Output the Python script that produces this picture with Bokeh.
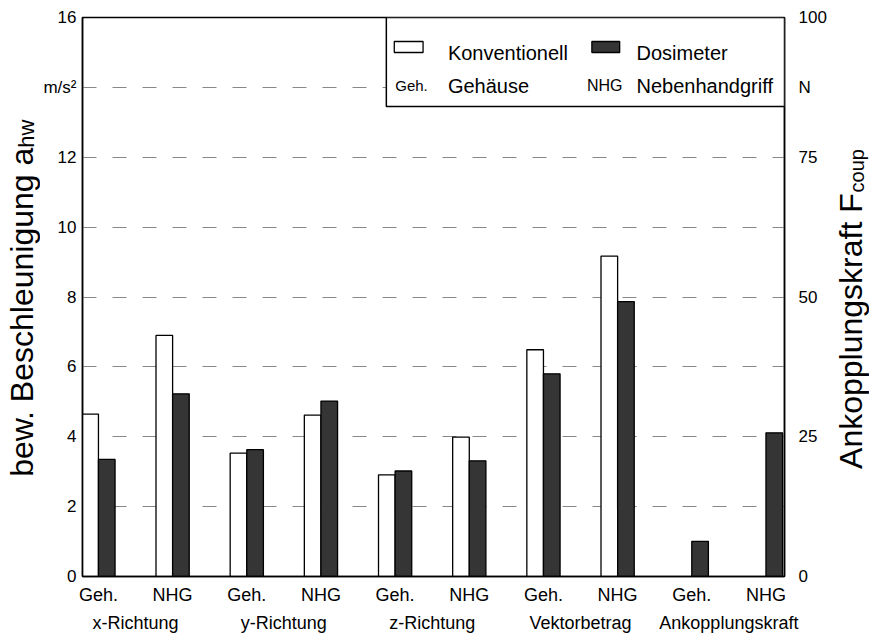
from math import pi
from bokeh.plotting import figure
from bokeh.layouts import row
from bokeh.models import Range1d, LinearAxis, FixedTicker, BoxAnnotation, Label
from bokeh.embed import file_html
from bokeh.resources import INLINE

# ---------------- data ----------------
groups = ["x-Richtung", "y-Richtung", "z-Richtung", "Vektorbetrag", "Ankopplungskraft"]
positions = ["Geh.", "NHG", "Geh.", "NHG", "Geh.", "NHG", "Geh.", "NHG", "Geh.", "NHG"]
# weighted acceleration a_hw in m/s^2 (first 8 categories)
konventionell = [4.65, 6.90, 3.53, 4.62, 2.91, 3.99, 6.49, 9.17]
dosimeter = [3.35, 5.23, 3.63, 5.02, 3.02, 3.31, 5.80, 7.87]
# coupling force F_coup in N (Ankopplungskraft, Geh./NHG)
kraft_dosimeter = [6.3, 25.7]
left_ticks = [0, 2, 4, 6, 8, 10, 12, 14, 16]
grid_ticks = [2, 4, 6, 8, 10, 12, 14]
right_ticks = [0, 25, 50, 75, 87.5, 100]

# ---------------- layout (page px, origin at top-left) ----------------
H = 640
WL, WR = 40, 40                              # title strips
FL, FR, FT, FB = 79, 786, 17, 576            # frame edges
RB = 829                                     # right edge of main figure
WM = RB - WL
XLO, XHI = -0.215, 9.25
YLO, YHI = 0, 16
BW = 0.224
FONT = "Liberation Sans"
DARK = "#353535"


def xd(px):
    return XLO + (px - FL) / (FR - FL) * (XHI - XLO)


def yd(py):
    return YLO + (FB - py) / (FB - FT) * (YHI - YLO)


p = figure(width=WM, height=H, output_backend="svg", toolbar_location=None,
           x_range=Range1d(XLO, XHI), y_range=Range1d(YLO, YHI),
           min_border_left=FL - WL, min_border_right=RB - FR,
           min_border_top=FT, min_border_bottom=H - FB)
p.extra_y_ranges = {"right": Range1d(0, 100)}
p.background_fill_color = "white"
p.border_fill_color = "white"
p.outline_line_color = "black"
p.outline_line_width = 1.5

# grid
p.xgrid.visible = False
p.ygrid.ticker = FixedTicker(ticks=grid_ticks)
p.ygrid.grid_line_color = "#888888"
p.ygrid.grid_line_dash = "14 16"
p.ygrid.grid_line_width = 1


def style_axis(ax, size, standoff):
    ax.major_tick_out = 0
    ax.major_tick_in = 0
    ax.minor_tick_line_color = None
    ax.major_label_standoff = standoff
    ax.major_label_text_font = FONT
    ax.major_label_text_font_size = size
    ax.major_label_text_color = "black"


# left axis
ya = p.yaxis[0]
ya.ticker = FixedTicker(ticks=left_ticks)
ya.major_label_overrides = {14: "m/s²"}
ya.axis_line_color = "black"
ya.axis_line_width = 1.5
style_axis(ya, "17px", 6)

# right axis
ra = LinearAxis(y_range_name="right", ticker=FixedTicker(ticks=right_ticks),
                major_label_overrides={87.5: "N"})
ra.axis_line_color = "black"
ra.axis_line_width = 1.5
style_axis(ra, "17px", 14)
p.add_layout(ra, "right")

# bottom axis (positions)
xa = p.xaxis[0]
xa.ticker = FixedTicker(ticks=list(range(len(positions))))
xa.major_label_overrides = {i: t for i, t in enumerate(positions)}
xa.axis_line_color = "black"
xa.axis_line_width = 1.5
style_axis(xa, "18px", 8)

# bottom axis (groups)
group_ticks = [2 * i + 0.5 for i in range(len(groups))]
ga = LinearAxis(ticker=FixedTicker(ticks=group_ticks),
                major_label_overrides={t: g for t, g in zip(group_ticks, groups)})
ga.axis_line_color = None
ga.major_tick_line_color = None
style_axis(ga, "18px", 5)
p.add_layout(ga, "below")

# bars
idx = list(range(len(konventionell)))
p.vbar(x=[i - BW / 2 for i in idx], top=konventionell, bottom=0, width=BW,
       fill_color="white", line_color="black", line_width=1.3)
p.vbar(x=[i + BW / 2 for i in idx], top=dosimeter, bottom=0, width=BW,
       fill_color=DARK, line_color="black", line_width=1.3)
p.vbar(x=[8 + BW / 2, 9 + BW / 2], top=kraft_dosimeter, bottom=0, width=BW,
       fill_color=DARK, line_color="black", line_width=1.3,
       y_range_name="right")

# legend (manual)
p.add_layout(BoxAnnotation(left=xd(385), right=xd(786), top=yd(17), bottom=yd(106),
                           fill_color="white", fill_alpha=1, line_color="black",
                           line_width=1.5, line_alpha=1))
p.add_layout(BoxAnnotation(left=xd(393), right=xd(422), top=yd(41), bottom=yd(52),
                           fill_color="white", fill_alpha=1, line_color="black",
                           line_width=1.3, line_alpha=1))
p.add_layout(BoxAnnotation(left=xd(592), right=xd(620), top=yd(41), bottom=yd(52),
                           fill_color=DARK, fill_alpha=1, line_color="black",
                           line_width=1.3, line_alpha=1))


def lab(px, py, text, size):
    p.add_layout(Label(x=xd(px), y=yd(py), text=text, text_font=FONT,
                       text_font_size=size, text_color="black",
                       text_align="left", text_baseline="alphabetic"))


lab(447, 52, "Konventionell", "20px")
lab(637, 52, "Dosimeter", "20px")
lab(394, 85, "Geh.", "15px")
lab(447, 85, "Gehäuse", "20px")
lab(587, 85, "NHG", "16px")
lab(637, 85, "Nebenhandgriff", "20px")


# ---------------- title strips ----------------
def strip(width):
    f = figure(width=width, height=H, output_backend="svg", toolbar_location=None,
               x_range=Range1d(0, width), y_range=Range1d(H, 0),
               x_axis_type=None, y_axis_type=None,
               min_border_left=0, min_border_right=0, min_border_top=0, min_border_bottom=0)
    f.outline_line_color = None
    f.background_fill_color = "white"
    f.border_fill_color = "white"
    f.xgrid.visible = False
    f.ygrid.visible = False
    return f


def vlab(f, x0, cx, cy, text, size):
    # anchor of the rotated text, in page px
    f.add_layout(Label(x=cx - x0, y=cy, text=text, text_font=FONT,
                       text_font_size=size, text_color="black", angle=pi / 2,
                       text_align="center", text_baseline="middle"))


fl = strip(WL)
vlab(fl, 0, 21.9, 337.5, "bew. Beschleunigung a", "32px")
vlab(fl, 0, 26.4, 133.0, "hw", "22px")

fr = strip(WR)
vlab(fr, RB, 850.9, 359.0, "Ankopplungskraft F", "32px")
vlab(fr, RB, 856.6, 175.5, "coup", "20px")

layout = row(fl, p, fr, spacing=0)
open("out.html", "w").write(file_html(layout, INLINE))
